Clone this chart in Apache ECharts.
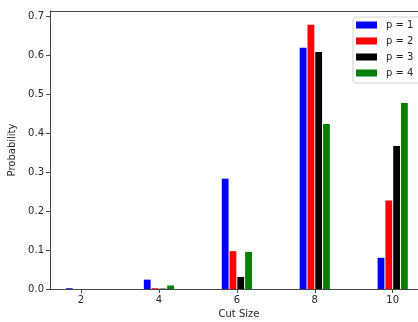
<!DOCTYPE html>
<html>
<head>
<meta charset="utf-8">
<script src="https://cdn.jsdelivr.net/npm/echarts@6/dist/echarts.min.js"></script>
<style>
  html, body { margin: 0; padding: 0; background: #fff; }
  #chart { width: 418px; height: 322px; }
</style>
</head>
<body>
<div id="chart"></div>
<script>
// data
const cutSizes = [2, 4, 6, 8, 10];
const seriesNames = ["p = 1", "p = 2", "p = 3", "p = 4"];
const p1 = [0.002, 0.024, 0.283, 0.619, 0.080];
const p2 = [0.000, 0.002, 0.097, 0.678, 0.227];
const p3 = [0.000, 0.001, 0.031, 0.608, 0.367];
const p4 = [0.000, 0.009, 0.095, 0.423, 0.477];
const yTicks = [0, 0.1, 0.2, 0.3, 0.4, 0.5, 0.6, 0.7];

const colors = ["#0000ff", "#ff0000", "#000000", "#008000"];
const barW = 0.2;
const font = "DejaVu Sans";
const xMin = 1.204;
const xMax = 10.906;

const chart = echarts.init(document.getElementById("chart"));

const makeSeries = (name, values, k) => ({
  name: name,
  type: "custom",
  itemStyle: { color: colors[k] },
  data: cutSizes.map((c, i) => [c, values[i]]),
  renderItem: (params, api) => {
    const x = api.value(0) + (k - 1.5) * barW;
    const y = api.value(1);
    const a = api.coord([x - barW / 2, y]);
    const b = api.coord([x + barW / 2, 0]);
    return {
      type: "rect",
      shape: { x: a[0] + 0.5, y: a[1], width: b[0] - a[0] - 1, height: b[1] - a[1] },
      style: { fill: colors[k] },
    };
  },
});

const option = {
  animation: false,
  textStyle: { fontFamily: font },
  grid: {
    left: 50,
    right: -10,
    top: 11,
    bottom: 33,
    outerBoundsMode: "none",
    containLabel: false,
  },
  legend: {
    orient: "vertical",
    left: 353,
    top: 17,
    padding: [2, 12, 4, 3],
    itemGap: 4,
    itemWidth: 21,
    itemHeight: 7,
    backgroundColor: "#fff",
    borderColor: "#d0d0d0",
    borderWidth: 1,
    borderRadius: 3,
    icon: "rect",
    data: seriesNames,
    textStyle: { fontFamily: font, fontSize: 10, color: "#262626", lineHeight: 12, padding: [0, 0, 0, 4] },
  },
  xAxis: [
    {
      type: "value",
      min: xMin,
      max: xMax,
      name: "Cut Size",
      nameLocation: "middle",
      nameGap: 20,
      nameTextStyle: { fontFamily: font, fontSize: 10, color: "#262626" },
      splitLine: { show: false },
      axisLine: { show: true, lineStyle: { color: "#444" } },
      axisTick: { show: true, inside: false, length: 4, customValues: cutSizes, lineStyle: { color: "#444" } },
      axisLabel: { customValues: cutSizes, fontFamily: font, fontSize: 10, color: "#262626", margin: 6 },
    },
    {
      // top spine only
      type: "value",
      position: "top",
      min: xMin,
      max: xMax,
      splitLine: { show: false },
      axisLine: { show: true, onZero: false, lineStyle: { color: "#444" } },
      axisTick: { show: false },
      axisLabel: { show: false },
    },
  ],
  yAxis: {
    type: "value",
    min: 0,
    max: 0.713,
    name: "Probability",
    nameLocation: "middle",
    nameGap: 28,
    nameTextStyle: { fontFamily: font, fontSize: 10, color: "#262626" },
    splitLine: { show: false },
    axisLine: { show: true, lineStyle: { color: "#444" } },
    axisTick: { show: true, inside: false, length: 4, customValues: yTicks, lineStyle: { color: "#444" } },
    axisLabel: {
      customValues: yTicks,
      fontFamily: font,
      fontSize: 10,
      color: "#262626",
      margin: 6,
      formatter: (v) => v.toFixed(1),
    },
  },
  series: [
    makeSeries(seriesNames[0], p1, 0),
    makeSeries(seriesNames[1], p2, 1),
    makeSeries(seriesNames[2], p3, 2),
    makeSeries(seriesNames[3], p4, 3),
  ],
};

chart.setOption(option);
</script>
</body>
</html>
